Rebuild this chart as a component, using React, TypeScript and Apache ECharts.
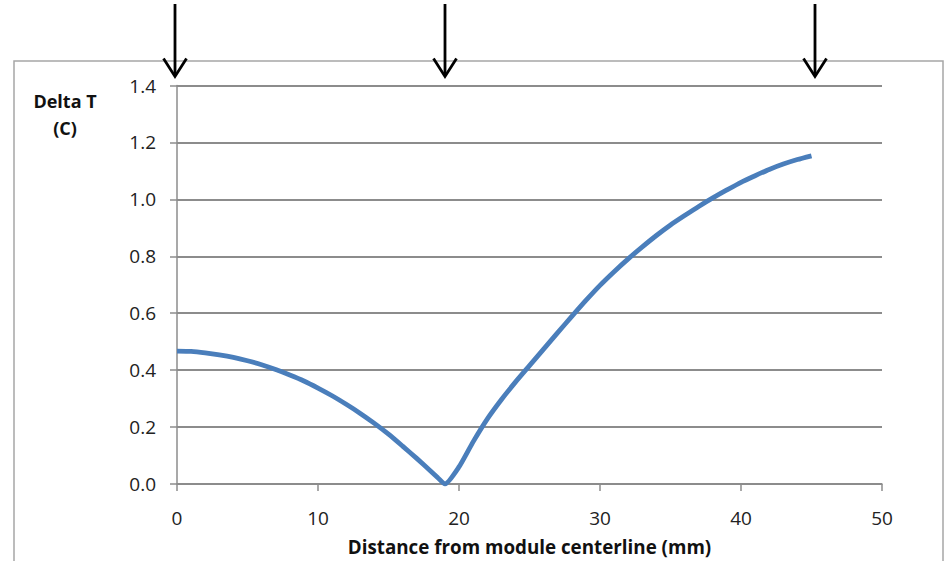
import React, { useEffect, useRef } from "react";
import * as echarts from "echarts";

const xValues = [0, 1, 2, 3, 4, 5, 6, 7, 8, 9, 10, 11, 12, 13, 14, 15, 16, 17, 18, 18.5, 19, 20, 21, 22, 23, 24, 25, 26, 27, 28, 29, 30, 31, 32, 33, 34, 35, 36, 37, 38, 39, 40, 41, 42, 43, 44, 45];
const deltaT = [0.467, 0.466, 0.461, 0.454, 0.445, 0.433, 0.419, 0.402, 0.383, 0.362, 0.337, 0.31, 0.28, 0.248, 0.213, 0.175, 0.133, 0.09, 0.045, 0.022, 0.0, 0.06, 0.148, 0.228, 0.296, 0.358, 0.416, 0.474, 0.532, 0.589, 0.645, 0.698, 0.746, 0.791, 0.833, 0.873, 0.91, 0.943, 0.975, 1.005, 1.033, 1.06, 1.083, 1.105, 1.124, 1.14, 1.153];
const arrowXs = [175, 445, 815];
const yAxisTitle = ["Delta T", "(C)"];
const xAxisTitle = "Distance from module centerline (mm)";

const FONT = "'Open Sans', 'Noto Sans', sans-serif";

export default function App() {
  const ref = useRef<HTMLDivElement>(null);
  useEffect(() => {
    if (!ref.current) return;
    const chart = echarts.init(ref.current, undefined, { renderer: "svg" });
    const arrows: any[] = [];
    arrowXs.forEach((x) => {
      arrows.push({
        type: "line",
        shape: { x1: x, y1: 4, x2: x, y2: 75 },
        style: { stroke: "#000", lineWidth: 2.8 },
        z: 100,
      });
      arrows.push({
        type: "polyline",
        shape: { points: [[x - 11.5, 58.5], [x, 76.5], [x + 11.5, 58.5]] },
        style: { stroke: "#000", lineWidth: 2.8, fill: "none" },
        z: 100,
      });
    });
    chart.setOption({
      animation: false,
      backgroundColor: "#ffffff",
      grid: { left: 177, right: 67, top: 85.5, bottom: 64.5, containLabel: false },
      xAxis: {
        type: "value",
        min: 0,
        max: 50,
        interval: 10,
        axisLine: { show: true, lineStyle: { color: "#8c8c8c", width: 1.5 } },
        axisTick: { show: true, length: 7, inside: false, lineStyle: { color: "#8c8c8c", width: 1.5 } },
        splitLine: { show: false },
        axisLabel: { color: "#222", fontSize: 19, fontFamily: FONT, margin: 24 },
        name: xAxisTitle,
        nameLocation: "middle",
        nameGap: 53,
        nameTextStyle: { color: "#111", fontSize: 18.8, fontWeight: "bold", fontFamily: FONT },
      },
      yAxis: {
        type: "value",
        min: 0,
        max: 1.4,
        interval: 0.2,
        axisLine: { show: true, lineStyle: { color: "#8c8c8c", width: 1.5 } },
        axisTick: { show: true, length: 7, inside: false, lineStyle: { color: "#8c8c8c", width: 1.5 } },
        splitLine: { show: true, lineStyle: { color: "#8c8c8c", width: 1.8 } },
        axisLabel: {
          color: "#222",
          fontSize: 19,
          fontFamily: FONT,
          margin: 21,
          formatter: (v: number) => v.toFixed(1),
        },
      },
      graphic: [
        {
          type: "rect",
          shape: { x: 14, y: 61, width: 929, height: 560 },
          style: { fill: "none", stroke: "#a6a6a6", lineWidth: 1.5 },
          z: -10,
        },
        {
          type: "text",
          x: 65,
          y: 101,
          style: {
            text: yAxisTitle[0],
            fill: "#111",
            font: `bold 18px ${FONT}`,
            textAlign: "center",
            textVerticalAlign: "middle",
          },
        },
        {
          type: "text",
          x: 65,
          y: 128,
          style: {
            text: yAxisTitle[1],
            fill: "#111",
            font: `bold 18px ${FONT}`,
            textAlign: "center",
            textVerticalAlign: "middle",
          },
        },
        ...arrows,
      ],
      series: [
        {
          type: "line",
          data: xValues.map((x, i) => [x, deltaT[i]]),
          showSymbol: false,
          symbol: "none",
          smooth: 0.2,
          lineStyle: { color: "#4a7ebb", width: 4.8 },
          z: 5,
        },
      ],
    });
    return () => chart.dispose();
  }, []);
  return (
    <div
      ref={ref}
      style={{ position: "fixed", left: 0, top: 0, width: 949, height: 561 }}
    />
  );
}
